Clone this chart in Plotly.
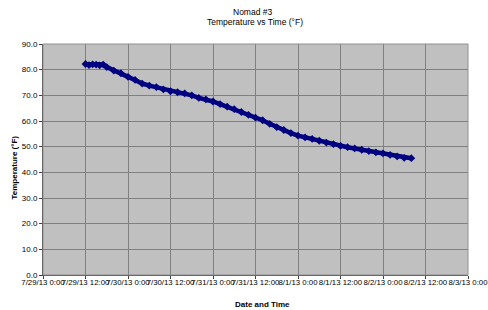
import plotly.graph_objects as go

# ---- data ----
times = [
    "2013-07-29 12:00", "2013-07-29 13:00", "2013-07-29 14:00", "2013-07-29 15:00",
    "2013-07-29 16:00", "2013-07-29 17:00", "2013-07-29 18:00", "2013-07-29 20:00",
    "2013-07-29 22:00", "2013-07-30 00:00", "2013-07-30 02:00", "2013-07-30 04:00",
    "2013-07-30 06:00", "2013-07-30 08:00", "2013-07-30 10:00", "2013-07-30 12:00",
    "2013-07-30 14:00", "2013-07-30 16:00", "2013-07-30 18:00", "2013-07-30 20:00",
    "2013-07-30 22:00", "2013-07-31 00:00", "2013-07-31 02:00", "2013-07-31 04:00",
    "2013-07-31 06:00", "2013-07-31 08:00", "2013-07-31 10:00", "2013-07-31 12:00",
    "2013-07-31 14:00", "2013-07-31 16:00", "2013-07-31 18:00", "2013-07-31 20:00",
    "2013-07-31 22:00", "2013-08-01 00:00", "2013-08-01 02:00", "2013-08-01 04:00",
    "2013-08-01 06:00", "2013-08-01 08:00", "2013-08-01 10:00", "2013-08-01 12:00",
    "2013-08-01 14:00", "2013-08-01 16:00", "2013-08-01 18:00", "2013-08-01 20:00",
    "2013-08-01 22:00", "2013-08-02 00:00", "2013-08-02 02:00", "2013-08-02 04:00",
    "2013-08-02 06:00", "2013-08-02 08:00",
]
temps = [
    82.2, 81.8, 82.1, 82.0, 81.7, 82.0, 81.0, 79.6,
    78.6, 77.2, 76.0, 74.6, 73.8, 73.2, 72.3, 71.6,
    71.2, 70.8, 70.0, 69.0, 68.4, 67.6, 66.6, 65.6,
    64.6, 63.5, 62.4, 61.3, 60.3, 58.9, 57.6, 56.5,
    55.3, 54.3, 53.6, 53.0, 52.3, 51.6, 51.0, 50.3,
    49.8, 49.3, 48.8, 48.3, 47.8, 47.4, 46.8, 46.2,
    45.6, 45.5,
]
tick_vals = [
    "2013-07-29 00:00", "2013-07-29 12:00", "2013-07-30 00:00", "2013-07-30 12:00",
    "2013-07-31 00:00", "2013-07-31 12:00", "2013-08-01 00:00", "2013-08-01 12:00",
    "2013-08-02 00:00", "2013-08-02 12:00", "2013-08-03 00:00",
]
tick_text = [
    "7/29/13 0:00", "7/29/13 12:00", "7/30/13 0:00", "7/30/13 12:00",
    "7/31/13 0:00", "7/31/13 12:00", "8/1/13 0:00", "8/1/13 12:00",
    "8/2/13 0:00", "8/2/13 12:00", "8/3/13 0:00",
]
y_ticks = [0, 10, 20, 30, 40, 50, 60, 70, 80, 90]

FONT = "Liberation Sans, Arial, sans-serif"
NAVY = "#000080"

W, H = 488, 310
ML, MT = 43, 44
MR = W - 468
MB = H - 275
PW, PH = W - ML - MR, H - MT - MB


def px(x):
    return (x - ML) / PW


def py(y):
    return (H - y - MB) / PH


fig = go.Figure()
fig.add_trace(go.Scatter(
    x=times, y=temps, mode="lines+markers",
    line=dict(color=NAVY, width=4.5),
    marker=dict(color=NAVY, size=6, symbol="diamond"),
    showlegend=False,
))

fig.update_layout(
    width=W, height=H,
    margin=dict(l=ML, r=MR, t=MT, b=MB, autoexpand=False),
    paper_bgcolor="white",
    plot_bgcolor="#c0c0c0",
    font=dict(family=FONT, size=8, color="#000000"),
    annotations=[
        dict(text="Nomad #3", x=px(252), y=py(12.5),
             xref="paper", yref="paper", showarrow=False,
             font=dict(size=8.5, family=FONT), yanchor="middle"),
        dict(text="Temperature vs Time (°F)", x=px(255), y=py(21.5),
             xref="paper", yref="paper", showarrow=False,
             font=dict(size=8.5, family=FONT), yanchor="middle"),
        dict(text="<b>Temperature (°F)</b>", x=px(13.5), y=py(168),
             xref="paper", yref="paper", showarrow=False, textangle=-90,
             font=dict(size=8, family=FONT), xanchor="center", yanchor="middle"),
        dict(text="<b>Date and Time</b>", x=px(262), y=py(304),
             xref="paper", yref="paper", showarrow=False,
             font=dict(size=8, family=FONT), xanchor="center", yanchor="middle"),
    ],
)

fig.update_xaxes(
    type="date", automargin=False,
    range=[tick_vals[0], tick_vals[-1]],
    tickvals=tick_vals, ticktext=tick_text, tickangle=0,
    showgrid=True, gridcolor="#808080", gridwidth=1,
    showline=True, linecolor="#404040", linewidth=1,
    ticks="outside", ticklen=3, tickcolor="#404040",
    ticklabelstandoff=-3, ticklabeloverflow="allow",
    tickfont=dict(size=7.8, family=FONT),
    zeroline=False,
)
fig.update_yaxes(
    automargin=False,
    range=[0, 90], tickvals=y_ticks, tickformat=".1f",
    showgrid=True, gridcolor="#808080", gridwidth=1,
    showline=True, linecolor="#404040", linewidth=1,
    ticks="outside", ticklen=3, tickcolor="#404040",
    tickfont=dict(size=8, family=FONT),
    zeroline=False,
)
fig.add_shape(type="rect", xref="paper", yref="paper", x0=0, y0=0, x1=1, y1=1,
              line=dict(color="#909090", width=1), layer="above")

fig.write_html(
    "out.html",
    config={"displayModeBar": False, "staticPlot": True},
    post_script="document.body.style.margin='0';document.body.style.overflow='hidden';",
)
